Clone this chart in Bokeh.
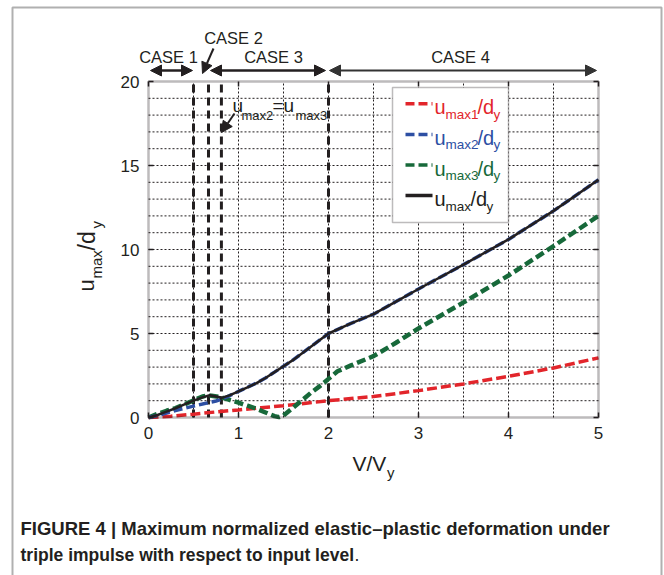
import numpy as np
from bokeh.plotting import figure
from bokeh.models import (Range1d, FixedTicker, LinearAxis, Arrow, NormalHead,
                          Label, BoxAnnotation, CustomJSTickFormatter)
from bokeh.embed import file_html
from bokeh.resources import INLINE

# ---------------- data ----------------
x_ticks = [0, 1, 2, 3, 4, 5]
y_ticks = [0, 5, 10, 15, 20]
x_grid = [0.5, 1, 1.5, 2, 2.5, 3, 3.5, 4, 4.5]
y_grid = list(range(1, 20))
case_bounds = [0.5, 0.667, 0.81, 2.0]

red_x = [0, 0.25, 0.5, 0.75, 1.0, 1.25, 1.5, 1.75, 2.0, 2.5, 3.0, 3.5, 4.0, 4.5, 5.0]
red_y = [0, 0.08, 0.2, 0.33, 0.45, 0.58, 0.7, 0.85, 1.0, 1.25, 1.6, 2.0, 2.45, 2.95, 3.55]

green_x = [0, 0.1, 0.2, 0.3, 0.4, 0.5, 0.6, 0.65, 0.7, 0.8, 0.9, 1.0, 1.1, 1.2, 1.3,
           1.4, 1.45, 1.5, 1.6, 1.7, 1.8, 1.9, 2.0, 2.1, 2.25, 2.5, 2.75, 3.0, 3.5,
           4.0, 4.5, 5.0]
green_y = [0, 0.22, 0.4, 0.56, 0.78, 1.02, 1.25, 1.31, 1.3, 1.22, 1.05, 0.88, 0.7,
           0.52, 0.3, 0.08, 0.02, 0.12, 0.55, 1.0, 1.45, 1.85, 2.3, 2.75, 3.1, 3.65,
           4.45, 5.3, 6.85, 8.45, 10.2, 12.0]

black_x = [0, 0.1, 0.2, 0.3, 0.4, 0.5, 0.6, 0.68, 0.75, 0.82, 0.9, 1.0, 1.1, 1.2,
           1.3, 1.4, 1.5, 1.6, 1.7, 1.8, 1.9, 2.0, 2.25, 2.5, 2.75, 3.0, 3.5, 4.0,
           4.5, 5.0]
black_y = [0, 0.15, 0.35, 0.55, 0.78, 1.0, 1.2, 1.32, 1.25, 1.18, 1.32, 1.55, 1.8,
           2.05, 2.35, 2.7, 3.05, 3.4, 3.8, 4.2, 4.6, 5.0, 5.6, 6.15, 6.9, 7.65,
           9.1, 10.6, 12.3, 14.15]

blue_x = black_x
blue_y = [0, 0.12, 0.27, 0.42, 0.55, 0.68, 0.8, 0.9, 0.98, 1.1, 1.3, 1.55, 1.8,
          2.05, 2.35, 2.7, 3.05, 3.4, 3.8, 4.2, 4.6, 5.0, 5.6, 6.15, 6.9, 7.65,
          9.1, 10.6, 12.3, 14.15]

RED = "#e2252b"
BLUE = "#2d4fa3"
GREEN = "#17693a"
BLACK = "#231f20"
FONT = "Liberation Sans"

# ---------------- layout helpers (canvas pixels -> data) ----------------
W, H = 664, 575
FL, FB, PXU, PYU = 148.0, 417.0, 90.0, 16.8
TXT_SHIFT = 5.0  # baseline correction for labels


def px(x):
    return (x - FL) / PXU


def py(y):
    return (FB - y) / PYU


p = figure(width=W, height=H, output_backend="svg", toolbar_location=None,
           x_range=Range1d(px(0), px(W)), y_range=Range1d(py(H), py(0)),
           min_border=0)
p.background_fill_color = "white"
p.border_fill_color = "white"
p.outline_line_color = None
p.xgrid.visible = False
p.ygrid.visible = False


def style_axis(ax, labels=True):
    ax.axis_line_color = None
    ax.major_tick_in = 5
    ax.major_tick_out = 0
    ax.major_tick_line_width = 1.5
    ax.major_tick_line_color = BLACK
    ax.minor_tick_line_color = None
    ax.major_label_text_font = FONT
    ax.major_label_text_font_size = "17px"
    ax.major_label_text_color = BLACK
    ax.major_label_standoff = 9
    if not labels:
        ax.formatter = CustomJSTickFormatter(code="return ''")


xa = p.xaxis[0]
ya = p.yaxis[0]
xa.ticker = FixedTicker(ticks=x_ticks)
ya.ticker = FixedTicker(ticks=y_ticks)
xa.fixed_location = 0
ya.fixed_location = 0
xa.bounds = (0, 5)
ya.bounds = (0, 20)
style_axis(xa)
style_axis(ya)

ta = LinearAxis(ticker=FixedTicker(ticks=x_ticks), fixed_location=20, bounds=(0, 5))
ra = LinearAxis(ticker=FixedTicker(ticks=y_ticks), fixed_location=5, bounds=(0, 20))
style_axis(ta, labels=False)
style_axis(ra, labels=False)
p.add_layout(ta, "above")
p.add_layout(ra, "right")

# dotted grid inside the plot box
p.segment(x0=x_grid, y0=[0] * len(x_grid), x1=x_grid, y1=[20] * len(x_grid),
          line_color=BLACK, line_width=1, line_dash="2 2")
p.segment(x0=[0] * len(y_grid), y0=y_grid, x1=[5] * len(y_grid), y1=y_grid,
          line_color=BLACK, line_width=1, line_dash="2 2")

# case boundary lines
p.segment(x0=case_bounds, y0=[0] * len(case_bounds), x1=case_bounds,
          y1=[20] * len(case_bounds), line_color=BLACK, line_width=3, line_dash="8 5")

# curves
p.line(red_x, red_y, line_color=RED, line_width=3.5, line_dash="10 4")
p.line(green_x, green_y, line_color=GREEN, line_width=4.5, line_dash="9 4")
p.line(blue_x, blue_y, line_color=BLUE, line_width=3.5, line_dash="9 4")
p.line(black_x, black_y, line_color=BLACK, line_width=2.5)

# plot box
p.add_layout(BoxAnnotation(left=0, right=5, bottom=0, top=20, fill_alpha=0,
                           line_color=BLACK, line_width=2.5, level="overlay"))


def lab(text, x, y, size, color=BLACK, align="left", style="normal", angle=0):
    if angle == 0:
        y = y - TXT_SHIFT
    else:
        x = x - TXT_SHIFT
    p.add_layout(Label(x=px(x), y=py(y), text=text, text_font=FONT,
                       text_font_size=f"{size}px", text_color=color,
                       text_align=align, text_baseline="alphabetic",
                       text_font_style=style, angle=angle, angle_units="deg",
                       level="overlay"))


def arrow(x0, y0, x1, y1, both=True, color=BLACK, width=2.5):
    head = dict(size=11, fill_color=color, line_color=color, line_width=1)
    p.add_layout(Arrow(x_start=px(x0), y_start=py(y0), x_end=px(x1), y_end=py(y1),
                       start=NormalHead(**head) if both else None,
                       end=NormalHead(**head), line_color=color, line_width=width,
                       level="overlay"))


# CASE annotations above the plot
arrow(150, 70, 192, 70)
arrow(210, 70, 325, 70)
arrow(329, 70, 596, 70, color="#333333", width=2.2)
arrow(213, 48, 202, 73, both=False, width=2)
lab("CASE 1", 168, 61, 16.5, align="center")
lab("CASE 2", 233, 42, 16.5, align="center")
lab("CASE 3", 273, 61, 16.5, align="center")
lab("CASE 4", 460, 61, 16.5, align="center")

# u_max2 = u_max3 annotation
lab("u", 232, 110, 19)
lab("max2", 241, 120, 13)
lab("=u", 272, 110, 19)
lab("max3", 295, 120, 13)
arrow(234, 113, 221, 132, both=False, width=2)

# legend
p.add_layout(BoxAnnotation(left=px(392), right=px(508), top=py(87), bottom=py(222),
                           fill_color="white", fill_alpha=1, line_color=BLACK,
                           line_width=1.5, level="overlay"))
rows = [("max1", RED, "9 4", 477, 493), ("max2", BLUE, "9 4", 477, 493),
        ("max3", GREEN, "9 4", 477, 493), ("max", BLACK, "solid", 470, 486)]
for i, (sub, col, dash, xs, xy) in enumerate(rows):
    ly = 103.3 + 30.6 * i
    p.add_layout(Arrow(x_start=px(405), y_start=py(ly), x_end=px(432), y_end=py(ly),
                       start=None, end=None, line_color=col, line_width=3.5,
                       line_dash=dash, level="overlay"))
    for t, xx, yy, s in (("u", 434, ly + 8.5, 20), (sub, 445, ly + 15.5, 13.5),
                         ("/d", xs, ly + 8.5, 20), ("y", xy, ly + 15.5, 13.5)):
        lab(t, xx, yy, s, color=col)

# axis titles
lab("V/V", 352, 468, 21)
lab("y", 386.5, 477, 15)
lab("u", 91, 291, 22, angle=90)
lab("max", 101, 278, 15, angle=90)
lab("/d", 91, 250, 23, angle=90)
lab("y", 101, 228, 15, angle=90)

# caption
lab("FIGURE 4 | Maximum normalized elastic\u2013plastic deformation under", 20, 533, 18.5,
    style="bold")
lab("triple impulse with respect to input level", 20, 559, 17.5, style="bold")
lab(".", 354, 559, 17.5)

# outer gray frame (left, top, right edges)
p.line([px(12), px(12), px(661), px(661)], [py(H + 5), py(7), py(7), py(H + 5)],
       line_color="#b0b0b0", line_width=2)

open("out.html", "w").write(file_html(p, INLINE))
